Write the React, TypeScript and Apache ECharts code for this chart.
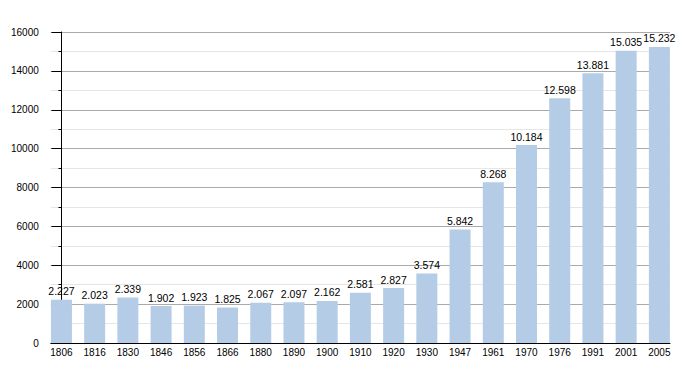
import React, { useEffect, useRef } from "react";
import * as echarts from "echarts";

const years = ["1806", "1816", "1830", "1846", "1856", "1866", "1880", "1890", "1900", "1910", "1920", "1930", "1947", "1961", "1970", "1976", "1991", "2001", "2005"];
const population = [2227, 2023, 2339, 1902, 1923, 1825, 2067, 2097, 2162, 2581, 2827, 3574, 5842, 8268, 10184, 12598, 13881, 15035, 15232];
const yTicks = [0, 2000, 4000, 6000, 8000, 10000, 12000, 14000, 16000];

function fmt(v: number): string {
  return String(v).replace(/\B(?=(\d{3})+(?!\d))/g, ".");
}

export default function App() {
  const ref = useRef<HTMLDivElement>(null);
  useEffect(() => {
    if (!ref.current) return;
    const chart = echarts.init(ref.current, undefined, { renderer: "svg" });
    const idx = years.map((_, i) => i);
    chart.setOption({
      animation: false,
      textStyle: { fontFamily: "Liberation Sans, Arial, sans-serif" },
      grid: { left: 42, top: 24, right: 22, bottom: 22, containLabel: false },
      xAxis: {
        type: "value",
        min: -0.32,
        max: 18.32,
        axisLine: { show: true, onZero: false, lineStyle: { color: "#000", width: 1 } },
        axisTick: { show: false },
        splitLine: { show: false },
        axisLabel: {
          customValues: idx,
          formatter: (v: number) => years[Math.round(v)] ?? "",
          color: "#000",
          fontSize: 10,
          margin: 4,
          showMinLabel: true,
          showMaxLabel: true,
        },
      },
      yAxis: {
        type: "value",
        min: 0,
        max: 16000,
        interval: 2000,
        axisLine: { show: true, lineStyle: { color: "#000", width: 1 } },
        axisTick: { show: true, length: 10, lineStyle: { color: "#000" }, customValues: yTicks },
        minorTick: { show: true, splitNumber: 2, length: 3, lineStyle: { color: "#000" } },
        splitLine: { show: true, lineStyle: { color: "#aaaaaa", width: 1 } },
        minorSplitLine: { show: true, lineStyle: { color: "#e6e6e6", width: 1 } },
        axisLabel: {
          customValues: yTicks,
          formatter: (v: number) => String(v),
          color: "#000",
          fontSize: 10,
          margin: 12,
        },
      },
      series: [
        {
          type: "bar",
          barWidth: 21,
          data: population.map((v, i) => [i, v]),
          itemStyle: { color: "#b4cce6" },
          label: {
            show: true,
            position: "top",
            distance: 3,
            color: "#000",
            fontSize: 10.5,
            formatter: (p: any) => fmt(p.value[1]),
          },
        },
      ],
    });
    return () => chart.dispose();
  }, []);
  return <div ref={ref} style={{ width: 684, height: 357 }} />;
}
